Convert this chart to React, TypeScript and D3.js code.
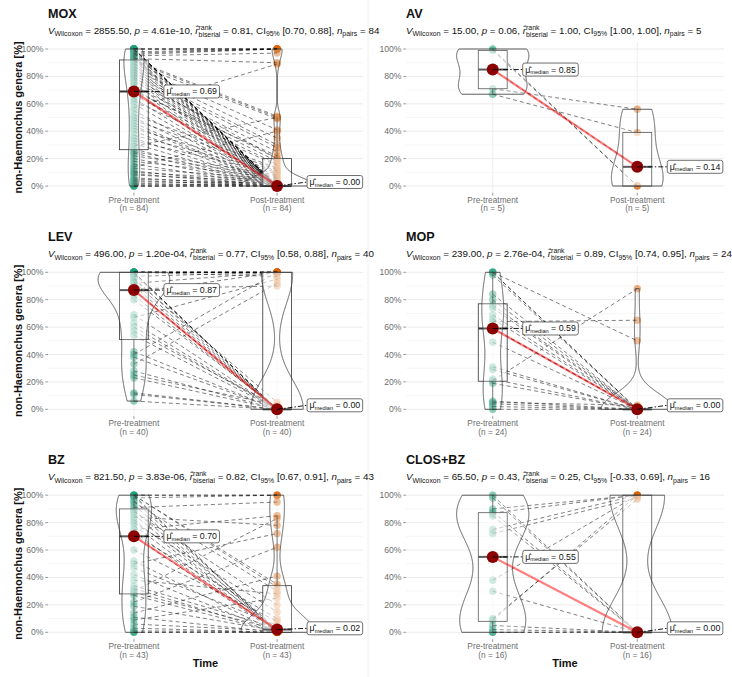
import React from "react";
import * as d3 from "d3";

const panelNames = ["MOX", "AV", "LEV", "MOP", "BZ", "CLOS+BZ"];
const categories = ["Pre-treatment", "Post-treatment"];
const yTicks = [0, 0.2, 0.4, 0.6, 0.8, 1];
const yMinor = [0.1, 0.3, 0.5, 0.7, 0.9];
const vWilcoxon = ["2855.50", "15.00", "496.00", "239.00", "821.50", "65.50"];
const pValues = ["4.61e-10", "0.06", "1.20e-04", "2.76e-04", "3.83e-06", "0.43"];
const rBiserial = ["0.81", "1.00", "0.77", "0.89", "0.82", "0.25"];
const ciLow = ["0.70", "1.00", "0.58", "0.74", "0.67", "-0.33"];
const ciHigh = ["0.88", "1.00", "0.88", "0.95", "0.91", "0.69"];
const nPairs = [84, 5, 40, 24, 43, 16];

const moxPre = [0, 0, 0, 0.01, 0.02, 0.03, 0.04, 0.05, 0.06, 0.08, 0.09, 0.1, 0.11, 0.13, 0.14, 0.16, 0.18, 0.2, 0.22, 0.24, 0.25,
  0.27, 0.29, 0.31, 0.33, 0.35, 0.37, 0.4, 0.42, 0.44, 0.46, 0.48, 0.5, 0.52, 0.55, 0.57, 0.6, 0.62, 0.64, 0.66, 0.68,
  0.69, 0.69,
  0.7, 0.72, 0.73, 0.75, 0.76, 0.78, 0.79, 0.8, 0.81, 0.82, 0.83, 0.84, 0.85, 0.86, 0.87, 0.88, 0.89, 0.9, 0.91, 0.92,
  0.92,
  0.93, 0.93, 0.94, 0.95, 0.95, 0.96, 0.97, 0.97, 0.98, 0.98, 0.99, 1, 1, 1, 1, 1, 1, 1, 1, 1];
const moxPost = [0, 0, 0, 0.01, 0, 0.02, 0, 0.02, 0, 0.03, 0, 0.04, 0, 0.05, 0.4, 0, 0.06, 0, 0.07, 0, 0.08,
  0, 0.5, 0, 0.09, 0, 0.1, 0, 0.11, 0, 0, 0.12, 0, 0.13, 0, 0.89, 0, 0.15, 0, 0.16, 0,
  0.22, 0,
  0.18, 0, 0.2, 0, 0.25, 0, 0.2, 0, 0.28, 0, 0.3, 0, 0.35, 0, 0.41, 0, 0.49, 0, 0.5, 0,
  0.51,
  0, 0.9, 0, 0.97, 0, 1, 0, 1, 0, 1, 0, 1, 0, 1, 0, 1, 0, 0, 0.01, 0];

const avPre = [0.67, 0.71, 0.85, 0.99, 1.0];
const avPost = [0.39, 0.56, 0.14, 0, 0];

const levPre = [0.06, 0.11, 0.12, 0.23, 0.25, 0.28, 0.33, 0.38, 0.4, 0.42, 0.54, 0.57, 0.6, 0.63, 0.67, 0.69, 0.8, 0.83, 0.85, 0.87,
  0.87, 0.88, 0.9, 0.92, 0.93, 0.95, 0.96, 0.97, 0.99, 1, 1, 1, 1, 1, 1, 1, 1, 1, 1, 1];
const levPost = [0, 0, 0, 0, 0.03, 0, 0.92, 0, 1, 0, 0, 0.02, 0, 0, 0.95, 0, 0.01, 0, 1, 0,
  0, 0.9, 0, 1, 0, 0.05, 0, 1, 0, 1, 0, 1, 1, 0, 1, 1, 0, 1, 0.97, 1];

const mopPre = [0, 0.02, 0.04, 0.05, 0.06, 0.19, 0.21, 0.22, 0.29, 0.31, 0.49, 0.59, 0.59, 0.64, 0.66, 0.69, 0.74, 0.76, 0.8, 0.84, 0.98, 1, 1, 1];
const mopPost = [0, 0, 0, 0.03, 0, 0, 0.88, 0, 0, 0, 0, 0, 0, 0.65, 0, 0, 0, 0, 0, 0, 0, 0.5, 0, 0];

const bzPre = [0, 0, 0.01, 0.03, 0.06, 0.09, 0.11, 0.14, 0.19, 0.22, 0.27, 0.29, 0.3, 0.32, 0.34, 0.38, 0.42, 0.47, 0.5, 0.52, 0.6,
  0.7, 0.71, 0.73, 0.75, 0.78, 0.8, 0.82, 0.84, 0.86, 0.88, 0.89, 0.91, 0.93, 0.95, 0.96, 0.98, 0.99, 1, 1, 1, 1, 1];
const bzPost = [0, 0, 0.005, 0, 0.01, 0.25, 0, 0.41, 0.01, 0.62, 0, 0.02, 0.83, 0, 0.03, 0.28, 0, 0.05, 0.72, 0,
  0.08, 0, 0.1, 0.01, 0.85, 0, 0.15, 0.015, 0.78, 0, 0.2, 0.02, 0.95, 0, 0.3, 0.02, 1, 0, 0.33, 1, 0.35, 1, 0];

const closPre = [0, 0, 0.02, 0.05, 0.09, 0.1, 0.3, 0.38, 0.72, 0.75, 0.85, 0.87, 0.88, 0.9, 0.98, 1.0];
const closPost = [0, 0, 0, 0, 1, 0.97, 0, 1, 0.98, 1, 0, 1, 0, 1, 0, 0];

const preSeries = [moxPre, avPre, levPre, mopPre, bzPre, closPre];
const postSeries = [moxPost, avPost, levPost, mopPost, bzPost, closPost];

const groupColors = ["#1B9E77", "#D95F02"];
const FONT = "'Liberation Sans', Arial, Helvetica, sans-serif";

let _ctx: CanvasRenderingContext2D | null = null;
function tw(s: string, size: number, style = "") {
  if (!_ctx) _ctx = document.createElement("canvas").getContext("2d");
  if (!_ctx) return s.length * size * 0.55;
  _ctx.font = `${style} ${size}px ${FONT}`;
  return _ctx.measureText(s).width;
}

function boxStats(values: number[]) {
  const s = values.slice().sort(d3.ascending);
  const q1 = d3.quantile(s, 0.25) as number;
  const med = d3.quantile(s, 0.5) as number;
  const q3 = d3.quantile(s, 0.75) as number;
  const iqr = q3 - q1;
  const lo = d3.min(s.filter((v) => v >= q1 - 1.5 * iqr)) as number;
  const hi = d3.max(s.filter((v) => v <= q3 + 1.5 * iqr)) as number;
  return { q1, med, q3, lo, hi };
}

function kde(values: number[]) {
  const n = values.length;
  const s = values.slice().sort(d3.ascending);
  const sd = d3.deviation(s) || 0;
  const iqr = (d3.quantile(s, 0.75) as number) - (d3.quantile(s, 0.25) as number);
  let lo = Math.min(sd, iqr / 1.34);
  if (!lo) lo = sd || Math.abs(s[0]) || 1;
  const bw = 0.9 * lo * Math.pow(n, -0.2);
  const mn = s[0], mx = s[n - 1];
  return d3.range(512).map((k) => {
    const t = mn + ((mx - mn) * k) / 511;
    const d = d3.sum(s, (v) => Math.exp(-0.5 * ((t - v) / bw) ** 2)) / (n * bw * Math.sqrt(2 * Math.PI));
    return [t, d] as [number, number];
  });
}

function Subtitle({ x, y, i }: { x: number; y: number; i: number }) {
  const fs = 9.8, ss = 6.9;
  const rankW = tw("rank", ss);
  return (
    <text x={x} y={y} fontSize={fs} fill="#111" style={{ whiteSpace: "pre" }}>
      <tspan fontStyle="italic">V</tspan>
      <tspan fontSize={ss} dy={2.4}>Wilcoxon</tspan>
      <tspan dy={-2.4}>{` = ${vWilcoxon[i]}, `}</tspan>
      <tspan fontStyle="italic">p</tspan>
      <tspan>{` = ${pValues[i]}, `}</tspan>
      <tspan fontStyle="italic">{"r\u0302"}</tspan>
      <tspan fontSize={ss} dy={-4.3}>rank</tspan>
      <tspan fontSize={ss} dx={-rankW} dy={7.2}>biserial</tspan>
      <tspan dy={-2.9}>{` = ${rBiserial[i]}, CI`}</tspan>
      <tspan fontSize={ss} dy={2.4}>95%</tspan>
      <tspan dy={-2.4}>{` [${ciLow[i]}, ${ciHigh[i]}], `}</tspan>
      <tspan fontStyle="italic">n</tspan>
      <tspan fontSize={ss} dy={2.4}>pairs</tspan>
      <tspan dy={-2.4}>{` = ${nPairs[i]}`}</tspan>
    </text>
  );
}

function MedianLabel({ px, py, value, y0, top }: { px: number; py: number; value: string; y0: number; top: number }) {
  const fs = 8.8, ss = 5.6;
  const txt = ` = ${value}`;
  const w = tw("\u03bc", fs) + tw("median", ss) + tw(txt, fs) + 5;
  const h = 13;
  const lx = px + 30;
  let cy = Math.min(py, y0 - 4);
  cy = Math.max(cy, top + h / 2 + 1);
  return (
    <g>
      <line x1={px} y1={py} x2={lx} y2={cy} stroke="#000" strokeWidth={0.9} strokeDasharray="5,2,1.5,2" />
      <rect x={lx} y={cy - h / 2} width={w} height={h} rx={2.2} fill="#fff" stroke="#333" strokeWidth={0.7} />
      <text x={lx + 2.5} y={cy + 3} fontSize={fs} fill="#111" style={{ whiteSpace: "pre" }}>
        <tspan>{"\u03bc\u0302"}</tspan>
        <tspan fontSize={ss} dy={1.5}>median</tspan>
        <tspan dy={-1.5}>{txt}</tspan>
      </text>
    </g>
  );
}

function Panel({ i }: { i: number }) {
  const pre = preSeries[i], post = postSeries[i];
  const col = i % 2, row = Math.floor(i / 2);
  const left = col === 0 ? 48 : 406;
  const right = col === 0 ? 363 : 724;
  const y100 = [49, 272.3, 495.2][row];
  const y0v = [186, 409.3, 632.3][row];
  const y = d3.scaleLinear().domain([0, 1]).range([y0v, y100]);
  const top = y(1.05), bottom = y(-0.05);
  const x = d3.scalePoint<string>().domain(categories).range([left, right]).padding(0.6);
  const step = x.step();
  const groups = [pre, post];
  const dens = groups.map(kde);
  const maxD = d3.max(dens.flat(), (d) => d[1]) as number;
  const stats = groups.map(boxStats);
  const medians = groups.map((g) => d3.median(g) as number);
  const lineGen = d3.line<[number, number]>();

  return (
    <g fontFamily={FONT}>
      {/* grid */}
      {yMinor.map((t) => (
        <line key={"mi" + t} x1={left} x2={right} y1={y(t)} y2={y(t)} stroke="#f0f0f0" strokeWidth={0.6} />
      ))}
      {yTicks.map((t) => (
        <line key={"ma" + t} x1={left} x2={right} y1={y(t)} y2={y(t)} stroke="#e6e6e6" strokeWidth={0.8} />
      ))}
      {categories.map((c) => (
        <line key={"vg" + c} x1={x(c)} x2={x(c)} y1={top} y2={bottom} stroke="#ebebeb" strokeWidth={0.8} />
      ))}
      {/* y axis */}
      {yTicks.map((t) => (
        <g key={"yt" + t}>
          <line x1={left - 2.7} x2={left} y1={y(t)} y2={y(t)} stroke="#555" strokeWidth={0.6} />
          <text x={left - 4.5} y={y(t) + 3} textAnchor="end" fontSize={8.6} fill="#6e6e6e">
            {`${Math.round(t * 100)}%`}
          </text>
        </g>
      ))}
      {/* x axis */}
      {categories.map((c, k) => (
        <g key={"xt" + c}>
          <line x1={x(c)} x2={x(c)} y1={bottom} y2={bottom + 2.7} stroke="#555" strokeWidth={0.6} />
          <text x={x(c)} y={y0v + 16.6} textAnchor="middle" fontSize={8.3} fill="#6e6e6e">{c}</text>
          <text x={x(c)} y={y0v + 25.3} textAnchor="middle" fontSize={8.3} fill="#6e6e6e">{`(n = ${groups[k].length})`}</text>
        </g>
      ))}
      {/* points */}
      {groups.map((g, k) =>
        g.map((v, j) => (
          <circle key={`p${k}-${j}`} cx={x(categories[k])} cy={y(v)} r={3.7} fill={groupColors[k]} fillOpacity={0.5} />
        ))
      )}
      {/* paths */}
      {pre.map((v, j) => (
        <line key={"l" + j} x1={x(categories[0])} y1={y(v)} x2={x(categories[1])} y2={y(post[j])}
          stroke="#000" strokeOpacity={0.5} strokeWidth={1} strokeDasharray="4,3" />
      ))}
      {/* boxplots */}
      {stats.map((s, k) => {
        const cx = x(categories[k]) as number;
        const hw = 0.1 * step;
        return (
          <g key={"b" + k}>
            <line x1={cx} x2={cx} y1={y(s.q3)} y2={y(s.hi)} stroke="#333" strokeWidth={0.8} />
            <line x1={cx} x2={cx} y1={y(s.q1)} y2={y(s.lo)} stroke="#333" strokeWidth={0.8} />
            <rect x={cx - hw} y={y(s.q3)} width={2 * hw} height={Math.max(0.01, y(s.q1) - y(s.q3))}
              fill="#fff" fillOpacity={0.5} stroke="#333" strokeWidth={0.8} />
            <line x1={cx - hw} x2={cx + hw} y1={y(s.med)} y2={y(s.med)} stroke="#333" strokeWidth={2} />
          </g>
        );
      })}
      {/* violins */}
      {dens.map((dd, k) => {
        const cx = x(categories[k]) as number;
        const half = (d: number) => (d / maxD) * 0.25 * step;
        const leftSide = dd.map(([t, d]) => [cx - half(d), y(t)] as [number, number]);
        const rightSide = dd.slice().reverse().map(([t, d]) => [cx + half(d), y(t)] as [number, number]);
        return (
          <path key={"v" + k} d={lineGen([...leftSide, ...rightSide]) + "Z"} fill="#fff" fillOpacity={0.2}
            stroke="#333" strokeWidth={0.8} />
        );
      })}
      {/* centrality path and points */}
      <line x1={x(categories[0])} y1={y(medians[0])} x2={x(categories[1])} y2={y(medians[1])}
        stroke="red" strokeOpacity={0.5} strokeWidth={2.2} />
      {medians.map((m, k) => (
        <circle key={"m" + k} cx={x(categories[k])} cy={y(m)} r={6} fill="#8B0000" />
      ))}
      {medians.map((m, k) => (
        <MedianLabel key={"ml" + k} px={x(categories[k]) as number} py={y(m)} value={m.toFixed(2)} y0={y(0)} top={top} />
      ))}
      {/* titles */}
      <text x={left} y={y100 - 31.5} fontSize={12.6} fontWeight="bold" fill="#111">{panelNames[i]}</text>
      <Subtitle x={left} y={y100 - 15} i={i} />
      {col === 0 && (
        <text transform={`translate(22, ${(top + bottom) / 2}) rotate(-90)`} textAnchor="middle" fontSize={11}
          fontWeight="bold" fill="#111">non-Haemonchus genera [%]</text>
      )}
      {row === 2 && (
        <text x={(left + right) / 2} y={666.5} textAnchor="middle" fontSize={11} fontWeight="bold" fill="#111">Time</text>
      )}
    </g>
  );
}

export default function App() {
  return (
    <svg width={732} height={677} viewBox="0 0 732 677"
      style={{ position: "absolute", left: 0, top: 0, background: "#fff" }}>
      <rect x={0} y={0} width={732} height={677} fill="#fff" />
      <line x1={368} x2={368} y1={0} y2={677} stroke="#ececec" strokeWidth={0.8} />
      {panelNames.map((_, i) => (
        <Panel key={i} i={i} />
      ))}
    </svg>
  );
}
